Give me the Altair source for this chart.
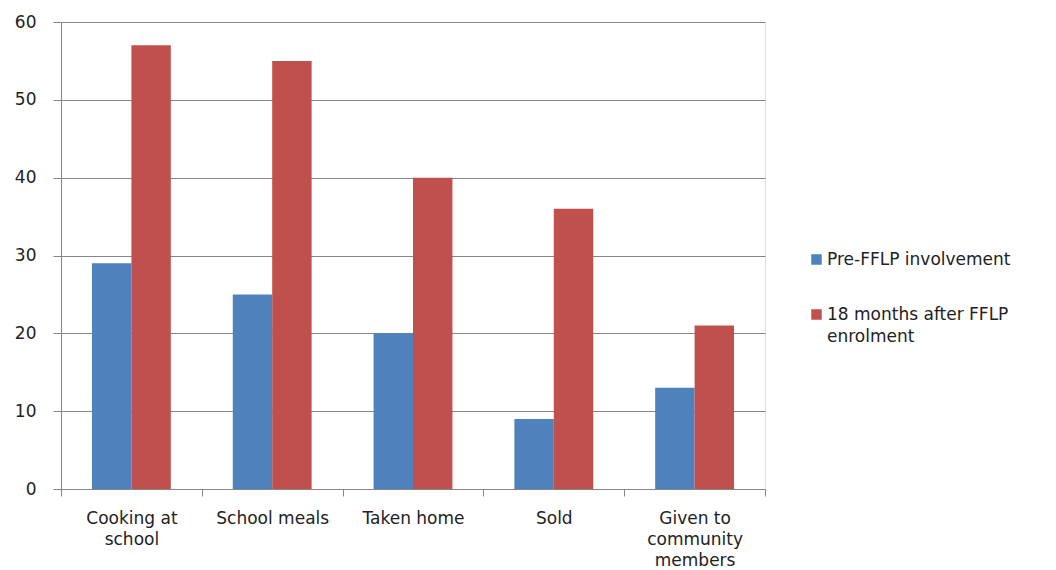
import altair as alt
import pandas as pd

categories = ["Cooking at school", "School meals", "Taken home", "Sold", "Given to community members"]
category_lines = [["Cooking at", "school"], ["School meals"], ["Taken home"], ["Sold"], ["Given to", "community", "members"]]
series_names = ["Pre-FFLP involvement", "18 months after FFLP enrolment"]
series_lines = [["Pre-FFLP involvement"], ["18 months after FFLP", "enrolment"]]
pre_values = [29, 25, 20, 9, 13]
after_values = [57, 55, 40, 36, 21]
colors = ["#4F81BD", "#C0504D"]
y_ticks = [0, 10, 20, 30, 40, 50, 60]

rows = []
for c, v in zip(categories, pre_values):
    rows.append({"category": c, "series": series_names[0], "value": v})
for c, v in zip(categories, after_values):
    rows.append({"category": c, "series": series_names[1], "value": v})
df = pd.DataFrame(rows)


def label_expr(names, lines):
    expr = "datum.label"
    for n, l in reversed(list(zip(names, lines))):
        arr = "[" + ",".join("'" + s + "'" for s in l) + "]"
        expr = f"datum.label == '{n}' ? {arr} : ({expr})"
    return expr


W, H = 704, 467
FONT = "DejaVu Sans"
FS = 17

bars = alt.Chart(df).mark_bar().encode(
    x=alt.X("category:N", sort=categories,
            scale=alt.Scale(paddingInner=0, paddingOuter=0),
            axis=alt.Axis(title=None, labelAngle=0, tickBand="extent", ticks=True, tickSize=7,
                          labelPadding=14, labelExpr=label_expr(categories, category_lines),
                          labelLineHeight=21, labelFontSize=FS, labelFont=FONT,
                          labelColor="#222222", domainColor="#868686", tickColor="#868686",
                          labelLimit=200, grid=False)),
    xOffset=alt.XOffset("series:N", sort=series_names,
                        scale=alt.Scale(paddingInner=0, paddingOuter=0.7857)),
    y=alt.Y("value:Q", scale=alt.Scale(domain=[0, 60], nice=False),
            axis=alt.Axis(title=None, values=y_ticks, tickSize=8, labelPadding=17,
                          labelFontSize=FS, labelFont=FONT, labelColor="#222222",
                          domainColor="#868686", tickColor="#868686",
                          gridColor="#868686", grid=True)),
    color=alt.Color("series:N", sort=series_names,
                    scale=alt.Scale(domain=series_names, range=colors),
                    legend=alt.Legend(title=None, orient="none", legendX=747, legendY=229,
                                      symbolType="square", symbolSize=110, symbolStrokeWidth=0,
                                      labelFontSize=FS, labelFont=FONT, labelColor="#222222",
                                      labelLimit=300, labelOffset=2, rowPadding=37,
                                      labelExpr=label_expr(series_names, series_lines))),
)

chart = bars.properties(
    width=W, height=H,
    autosize=alt.AutoSizeParams(type="none"),
    padding={"left": 53, "top": 14, "right": 283, "bottom": 81},
).configure_view(stroke=None).configure(
    background="white", style={"guide-label": {"lineHeight": 22}}
)

chart.save("out.html", embed_options={"renderer": "svg", "actions": False})
